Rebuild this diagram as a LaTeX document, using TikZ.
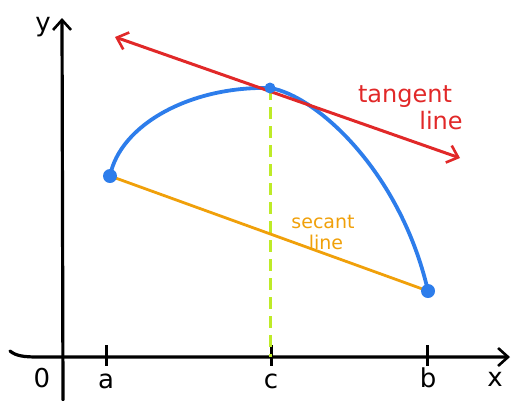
\documentclass[tikz,border=0pt]{standalone}
\usetikzlibrary{arrows.meta}
\usepackage{fontspec}
\setmainfont{DejaVu Sans}
\definecolor{cblue}{RGB}{45,125,235}
\definecolor{cred}{RGB}{225,40,40}
\definecolor{corange}{RGB}{240,160,10}
\definecolor{cgreen}{RGB}{190,235,40}
\tikzset{
  axis/.style={line width=3.2pt, black, line cap=round},
  tick/.style={line width=3pt, black},
  lbl/.style={font=\fontsize{26}{28}\selectfont, inner sep=0pt},
  dot/.style={circle, fill=cblue, inner sep=0pt, minimum size=14pt},
  mybarb/.tip={Straight Barb[length=10pt,width=18pt,line width=2.6pt]}
}
\begin{document}
\begin{tikzpicture}[x=1pt,y=-1pt]
\useasboundingbox (0,0) rectangle (513,400);
% axes
\coordinate (yb) at (63,400);
\coordinate (yt) at (62,18);
\coordinate (xl) at (10,351);
\coordinate (xr) at (510,357);
\draw[axis, -{mybarb}] (yb) -- (yt);
\draw[axis, -{mybarb}] (xl) .. controls (16,356) and (24,357) .. (38,357) -- (xr);
% labels
\node[lbl] (ylab) at (43,27) {y};
\node[lbl] (olab) at (42,378) {0};
\node[lbl] (alab) at (106,381) {a};
\node[lbl] (clab) at (271,381) {c};
\node[lbl] (blab) at (428,378) {b};
\node[lbl] (xlab) at (495,379) {x};
% ticks
\coordinate (at) at (106,345); \coordinate (ab) at (106,366);
\coordinate (ct) at (271,345); \coordinate (cb) at (271,366);
\coordinate (bt) at (427,345); \coordinate (bb) at (427,366);
\draw[tick] (at) -- (ab);
\draw[tick] (ct) -- (cb);
\draw[tick] (bt) -- (bb);
% points
\coordinate (A) at (110,176);
\coordinate (C) at (270,88);
\coordinate (B) at (428,291);
\coordinate (Cx) at (270,357);
% dashed
\draw[cgreen, line width=3pt, dash pattern=on 12pt off 7pt] (C) -- (Cx);
% secant
\draw[corange, line width=2.8pt] (A) -- (B);
% curve
\draw[cblue, line width=3.8pt, line join=round, line cap=round]
  (A) .. controls (120,125) and (190,86) .. (C)
      .. controls (315,95) and (400,170) .. (B);
% tangent
\coordinate (T1) at (460,158);
\coordinate (T2) at (115,37);
\draw[cred, line width=3pt, {mybarb}-{mybarb}] (T2) -- (T1);
% dots
\node[dot] (dA) at (A) {};
\node[dot] (dB) at (B) {};
\node[dot, minimum size=11pt] (dC) at (C) {};
% texts
\node[lbl, text=cred, font=\fontsize{24}{26}\selectfont] (tan) at (405,97) {tangent};
\node[lbl, text=cred, font=\fontsize{24}{26}\selectfont] (tanl) at (441,121) {line};
\node[inner sep=0pt, text=corange, font=\fontsize{19}{21}\selectfont] (sec) at (323,222) {secant};
\node[inner sep=0pt, text=corange, font=\fontsize{19}{21}\selectfont] (secl) at (326,242) {line};
\end{tikzpicture}
\end{document}
